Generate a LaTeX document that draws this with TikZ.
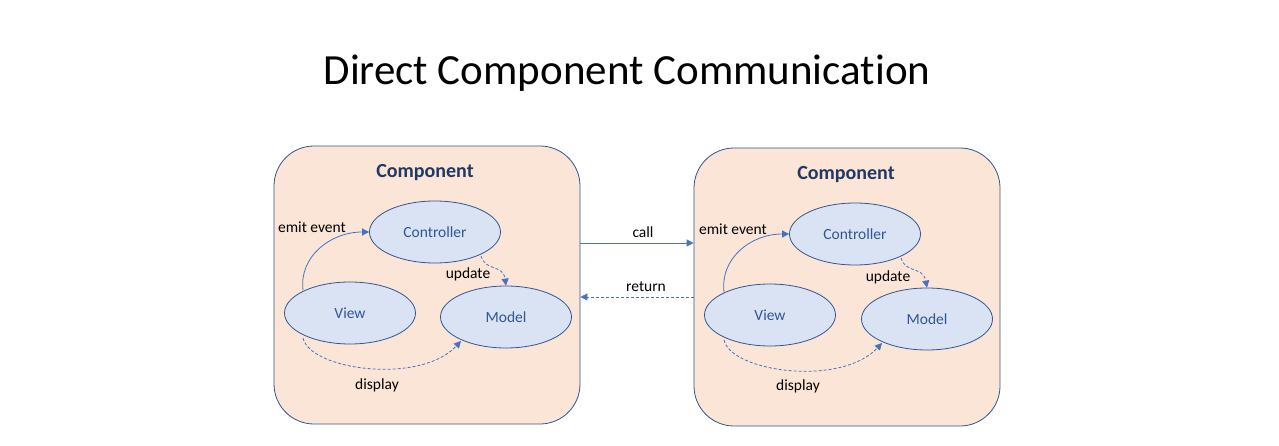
\documentclass[tikz,border=0pt]{standalone}
\usepackage{fontspec}
\setmainfont{Carlito}[Ligatures={NoCommon}]
\usetikzlibrary{shapes.geometric,arrows.meta}
\definecolor{boxfill}{HTML}{FBE5D6}
\definecolor{boxline}{HTML}{2F5597}
\definecolor{ellfill}{HTML}{DAE3F3}
\definecolor{ellline}{HTML}{2F5597}
\definecolor{ellText}{HTML}{2F5597}
\definecolor{arr}{HTML}{4472C4}
\definecolor{comptext}{HTML}{203864}
\tikzset{
  compbox/.style={draw=boxline, fill=boxfill, rounded corners=40pt, line width=0.8pt, minimum width=306pt, minimum height=278pt, inner sep=0pt},
  ell/.style={ellipse, draw=ellline, fill=ellfill, line width=0.8pt, minimum width=131pt, minimum height=62pt, inner sep=0pt, text=ellText, font=\fontsize{15.5}{18}\selectfont},
  comptitle/.style={text=comptext, font=\fontsize{20}{24}\selectfont\bfseries},
  lbl/.style={font=\fontsize{15.5}{18}\selectfont, text=black, inner sep=1pt},
  conn/.style={draw=arr, line width=0.8pt, -{Triangle[length=7pt,width=7pt]}},
  dconn/.style={conn, dashed, dash pattern=on 3pt off 2pt},
}
\begin{document}
\begin{tikzpicture}[x=1pt,y=-1pt]
\useasboundingbox (0,0) rectangle (1279,446);
\node[font=\fontsize{43}{48}\selectfont] (title) at (627,73) {Direct Component Communication};
% left component
\node[compbox] (lbox) at (427,285) {};
\node[comptitle] (ltitle) at (425,173) {Component};
\node[ell] (lctrl) at (435,232) {Controller};
\node[ell] (lview) at (350,313) {View};
\node[ell] (lmodel) at (506,317) {Model};
% right component
\node[compbox] (rbox) at (847,287) {};
\node[comptitle] (rtitle) at (846,175) {Component};
\node[ell] (rctrl) at (855,234) {Controller};
\node[ell] (rview) at (770,315) {View};
\node[ell] (rmodel) at (927,319) {Model};
% left internal connectors
\coordinate (lv1) at (303,290);
\draw[conn] (lv1) .. controls (299,257) and (330,232) .. (lctrl.west);
\node[lbl] (lemit) at (312,227) {emit event};
\coordinate (lc1) at (481,256);
\draw[dconn] (lc1) .. controls (486,272) and (503,264) .. (lmodel.north);
\node[lbl] (lupd) at (468,274) {update};
\coordinate (lv2) at (303,338);
\coordinate (lm2) at (461,341);
\draw[dconn] (lv2) .. controls (310,370) and (420,385) .. (lm2);
\node[lbl] (ldisp) at (377,385) {display};
% right internal connectors
\coordinate (rv1) at (724,292);
\draw[conn] (rv1) .. controls (720,259) and (750,234) .. (rctrl.west);
\node[lbl] (remit) at (733,229) {emit event};
\coordinate (rc1) at (901,258);
\draw[dconn] (rc1) .. controls (906,274) and (923,266) .. (rmodel.north);
\node[lbl] (rupd) at (888,277) {update};
\coordinate (rv2) at (724,340);
\coordinate (rm2) at (882,343);
\draw[dconn] (rv2) .. controls (731,372) and (841,387) .. (rm2);
\node[lbl] (rdisp) at (798,386) {display};
% between components
\coordinate (cs) at (lbox.east |- 0,243);
\coordinate (ce) at (rbox.west |- 0,243);
\draw[conn] (cs) -- (ce);
\node[lbl] (call) at (643,232) {call};
\coordinate (rs) at (rbox.west |- 0,297);
\coordinate (re) at (lbox.east |- 0,297);
\draw[dconn] (rs) -- (re);
\node[lbl] (ret) at (646,287) {return};
\end{tikzpicture}
\end{document}
